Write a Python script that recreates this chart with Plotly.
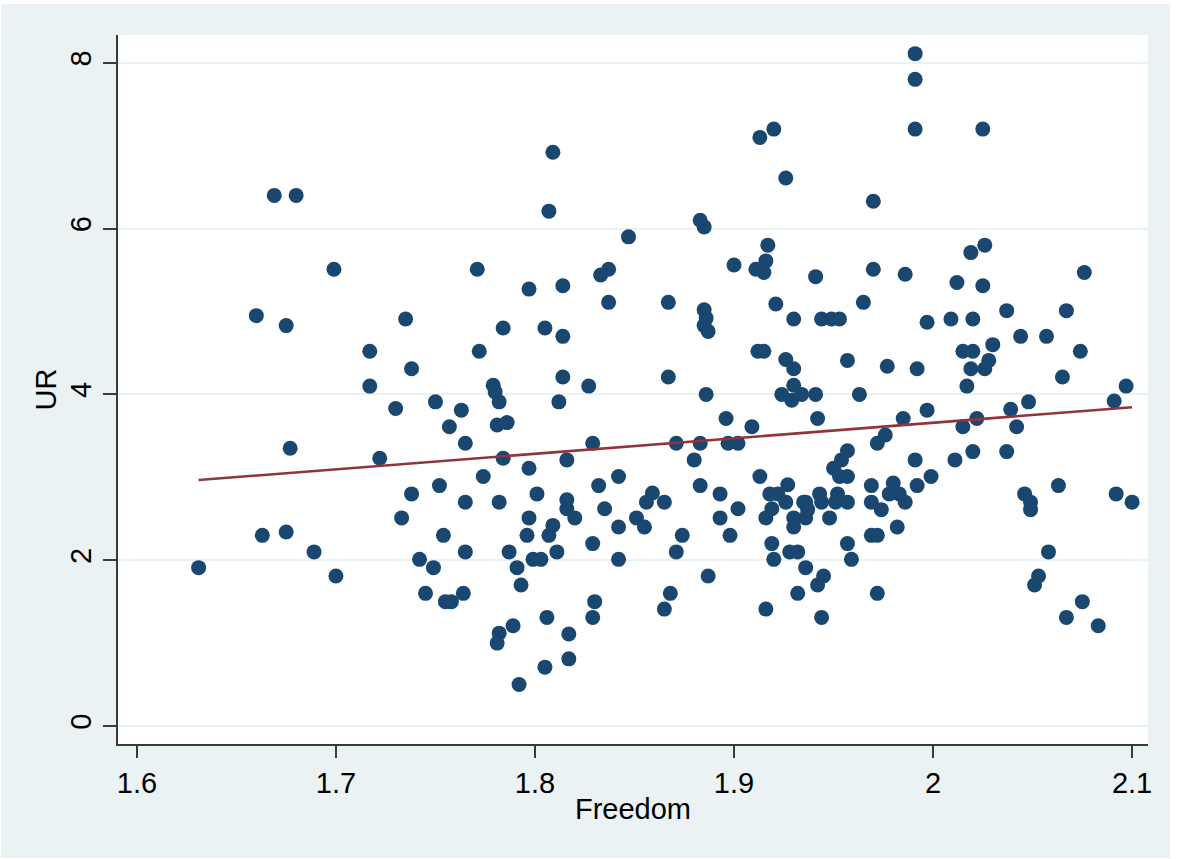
import plotly.graph_objects as go

# Scatter data: Freedom (x) vs UR (y)
freedom = [
    1.669, 1.680, 1.699,
    1.809, 1.807, 1.771, 1.847, 1.913, 1.920, 1.926, 1.883, 1.885, 1.917, 1.916, 1.911, 1.915, 1.900, 1.837, 1.833, 1.941,
    1.991, 1.991, 1.991, 2.025, 1.970, 2.026, 2.019, 1.970, 1.986, 2.076,
    1.660, 1.675, 1.735, 1.717, 1.738, 1.717, 1.730, 1.750, 1.763, 1.757, 1.765, 1.677, 1.722, 1.738, 1.752, 1.765,
    1.797, 1.814, 1.837, 1.867, 1.885, 1.886, 1.885, 1.887, 1.921, 1.930,
    1.784, 1.805, 1.814, 1.772, 1.912, 1.915, 1.926, 1.930, 1.814, 1.867, 1.779, 1.780, 1.782, 1.827, 1.812, 1.886,
    1.930, 1.924, 1.929, 1.934,
    1.781, 1.786, 1.829, 1.871, 1.883, 1.896, 1.909, 1.897, 1.902,
    1.784, 1.816, 1.880, 1.774, 1.797, 1.842, 1.832, 1.883, 1.893, 1.913, 1.927, 1.918, 1.922, 1.926, 1.935,
    1.801, 1.782, 1.816, 1.816, 1.859, 1.856, 1.865, 1.835, 1.902, 1.919,
    2.012, 2.025, 1.965, 1.944, 1.949, 1.953, 1.997, 2.009, 2.020, 2.037, 2.067, 2.044, 2.057, 2.074, 2.030,
    2.015, 2.020, 2.028, 2.026, 2.019, 1.957, 1.977, 1.992, 2.017, 2.065, 2.097, 2.091, 2.048, 2.039, 1.963,
    1.941, 1.942, 1.997, 1.985, 2.022, 2.015, 2.042, 1.976, 1.972, 1.957, 1.954, 1.950, 1.953, 1.957, 1.991,
    2.020, 2.037, 2.011, 1.999, 1.992, 1.969, 1.980, 1.978, 1.983, 1.986, 1.969, 1.974, 1.943, 1.952, 1.936,
    1.944, 1.951, 1.957, 2.046, 2.049, 2.049, 2.063, 2.092, 2.100,
    1.631, 1.663, 1.675, 1.689, 1.700, 1.733, 1.754, 1.742, 1.749, 1.745, 1.755, 1.758, 1.764, 1.765,
    1.797, 1.820, 1.796, 1.809, 1.807, 1.842, 1.851, 1.855, 1.874, 1.871, 1.829, 1.842, 1.787, 1.799, 1.803,
    1.811, 1.791, 1.793, 1.893, 1.898, 1.887, 1.868, 1.865, 1.830, 1.829, 1.806, 1.789, 1.782, 1.781, 1.817,
    1.817, 1.805, 1.792, 1.916, 1.919, 1.920, 1.916, 1.930, 1.936, 1.930, 1.928, 1.932, 1.936, 1.932,
    1.937, 1.948, 1.982, 1.969, 1.972, 1.957, 1.959, 1.945, 1.942, 1.972, 1.944, 2.058, 2.053, 2.051, 2.075,
    2.067, 2.083,
]
ur = [
    6.40, 6.40, 5.51,
    6.92, 6.21, 5.51, 5.90, 7.10, 7.20, 6.61, 6.10, 6.02, 5.80, 5.61, 5.51, 5.47, 5.56, 5.51, 5.44, 5.42,
    8.11, 7.80, 7.20, 7.20, 6.33, 5.80, 5.71, 5.51, 5.45, 5.47,
    4.95, 4.83, 4.91, 4.52, 4.31, 4.10, 3.83, 3.91, 3.81, 3.61, 3.41, 3.35, 3.23, 2.80, 2.90, 2.70,
    5.27, 5.31, 5.11, 5.11, 5.02, 4.92, 4.83, 4.76, 5.09, 4.91,
    4.80, 4.80, 4.70, 4.52, 4.52, 4.52, 4.42, 4.31, 4.21, 4.21, 4.11, 4.03, 3.91, 4.10, 3.91, 4.00,
    4.11, 4.00, 3.93, 4.00,
    3.63, 3.66, 3.41, 3.41, 3.41, 3.71, 3.61, 3.41, 3.41,
    3.23, 3.21, 3.21, 3.01, 3.11, 3.01, 2.90, 2.90, 2.80, 3.01, 2.91, 2.80, 2.80, 2.70, 2.70,
    2.80, 2.70, 2.73, 2.62, 2.81, 2.70, 2.70, 2.62, 2.62, 2.62,
    5.35, 5.31, 5.11, 4.91, 4.91, 4.91, 4.87, 4.91, 4.91, 5.01, 5.01, 4.70, 4.70, 4.52, 4.60,
    4.52, 4.52, 4.41, 4.31, 4.31, 4.41, 4.34, 4.31, 4.10, 4.21, 4.10, 3.92, 3.91, 3.82, 4.00,
    4.00, 3.71, 3.81, 3.71, 3.71, 3.61, 3.61, 3.51, 3.41, 3.32, 3.21, 3.11, 3.01, 3.01, 3.21,
    3.31, 3.31, 3.21, 3.01, 2.90, 2.90, 2.93, 2.80, 2.80, 2.70, 2.70, 2.61, 2.80, 2.80, 2.70,
    2.70, 2.70, 2.70, 2.80, 2.70, 2.61, 2.90, 2.80, 2.70,
    1.91, 2.30, 2.34, 2.10, 1.81, 2.51, 2.30, 2.01, 1.91, 1.60, 1.50, 1.50, 1.60, 2.10,
    2.51, 2.51, 2.30, 2.42, 2.30, 2.40, 2.51, 2.40, 2.30, 2.10, 2.20, 2.01, 2.10, 2.01, 2.01,
    2.10, 1.91, 1.70, 2.51, 2.30, 1.81, 1.60, 1.41, 1.50, 1.31, 1.31, 1.21, 1.12, 1.00, 1.11,
    0.81, 0.71, 0.50, 2.51, 2.20, 2.01, 1.41, 2.51, 2.51, 2.40, 2.10, 2.10, 1.91, 1.60,
    2.61, 2.51, 2.40, 2.30, 2.30, 2.20, 2.01, 1.81, 1.70, 1.60, 1.31, 2.10, 1.81, 1.70, 1.50,
    1.31, 1.21,
]

# Linear fit line endpoints
fit_x = [1.631, 2.100]
fit_y = [2.967, 3.845]

x_ticks = [1.6, 1.7, 1.8, 1.9, 2.0, 2.1]
x_tick_text = ["1.6", "1.7", "1.8", "1.9", "2", "2.1"]
y_ticks = [0, 2, 4, 6, 8]

BG = "#EAF2F3"
FONT = "Liberation Sans, Arial, sans-serif"
FS = 29

fig = go.Figure()
fig.add_trace(go.Scatter(
    x=freedom, y=ur, mode="markers",
    marker=dict(size=15, color="#1A476F", line=dict(width=0)),
    showlegend=False, hoverinfo="x+y",
))
fig.add_trace(go.Scatter(
    x=fit_x, y=fit_y, mode="lines",
    line=dict(color="#90353B", width=2.6),
    showlegend=False,
))

fig.update_layout(
    width=1169, height=854,
    paper_bgcolor=BG, plot_bgcolor="white",
    margin=dict(l=117, r=22, t=31, b=114),
    font=dict(family=FONT, size=FS, color="black"),
    xaxis=dict(
        range=[1.5905, 2.108], tickvals=x_ticks, ticktext=x_tick_text,
        showgrid=False, zeroline=False,
        showline=True, linecolor="#3a3a3a", linewidth=1.5,
        ticks="outside", ticklen=12, tickcolor="#3a3a3a", tickwidth=1.5,
        ticklabelstandoff=0,
        title=dict(text="Freedom", standoff=1, font=dict(size=FS)),
        tickfont=dict(size=FS),
    ),
    yaxis=dict(
        range=[-0.217, 8.335], tickvals=y_ticks,
        showgrid=True, gridcolor=BG, gridwidth=2,
        zeroline=False,
        showline=True, linecolor="#3a3a3a", linewidth=1.5,
        ticks="outside", ticklen=13, tickcolor="#3a3a3a", tickwidth=1.5,
        tickangle=-90, ticklabelstandoff=1,
        title=dict(text="UR", standoff=0, font=dict(size=FS)),
        tickfont=dict(size=FS),
    ),
)

fig.write_html(
    "out.html",
    post_script="document.body.style.margin='4px 0 0 1px';document.body.style.background='white';",
)
